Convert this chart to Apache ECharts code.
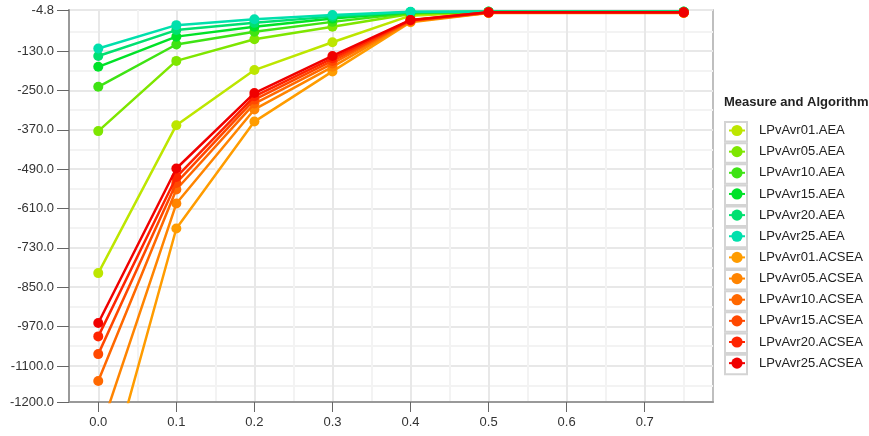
<!DOCTYPE html>
<html><head><meta charset="utf-8">
<script src="https://cdn.jsdelivr.net/npm/echarts@6/dist/echarts.min.js"></script>
<style>html,body{margin:0;padding:0;background:#fff}#c{width:869px;height:436px}</style>
</head><body><div id="c"></div>
<script>
const xValues = [0, 0.1, 0.2, 0.3, 0.4, 0.5, 0.75];

const seriesNames = ['LPvAvr01.AEA','LPvAvr05.AEA','LPvAvr10.AEA','LPvAvr15.AEA','LPvAvr20.AEA','LPvAvr25.AEA',
  'LPvAvr01.ACSEA','LPvAvr05.ACSEA','LPvAvr10.ACSEA','LPvAvr15.ACSEA','LPvAvr20.ACSEA','LPvAvr25.ACSEA'];

const aea01 = [-807, -356, -188, -103, -22, -11, -11];
const aea05 = [-374, -160, -94, -56, -17, -10.5, -10.5];
const aea10 = [-239, -110, -71, -41, -14, -10, -10];
const aea15 = [-178, -86, -56, -31, -12, -10, -10];
const aea20 = [-145, -66, -44, -25, -11, -10, -10];
const aea25 = [-122, -51, -33, -20, -10, -10, -10];
const acsea01 = [-1532, -671, -345, -192, -42, -14, -14];
const acsea05 = [-1307, -595, -308, -178, -40, -13.5, -13.5];
const acsea10 = [-1136, -552, -290, -168, -38, -13, -13];
const acsea15 = [-1054, -532, -278, -160, -37, -12.5, -12.5];
const acsea20 = [-1000, -514, -268, -152, -36, -12, -12];
const acsea25 = [-959, -488, -258, -145, -35, -12, -12];

const seriesValues = [aea01, aea05, aea10, aea15, aea20, aea25, acsea01, acsea05, acsea10, acsea15, acsea20, acsea25];
const seriesColors = ['#bde600','#7ee600','#3ee314','#00e228','#00e070','#00e0ac',
  '#ff9c00','#ff8400','#ff6800','#ff4800','#ff2400','#f00000'];

const yMin = -1200, yMax = -4.8;
const yTickValues = [-4.8, -130, -250, -370, -490, -610, -730, -850, -970, -1090, -1200];
const yMinorValues = [-70, -190, -310, -430, -550, -670, -790, -910, -1030, -1150];
const xMin = -0.0375, xMax = 0.7875;
const xTickValues = [0, 0.1, 0.2, 0.3, 0.4, 0.5, 0.6, 0.7];
const xMinorValues = [0.05, 0.15, 0.25, 0.35, 0.45, 0.55, 0.65, 0.75];

const FONT = 'Liberation Sans, Arial, sans-serif';

const chart = echarts.init(document.getElementById('c'), null, {renderer: 'canvas'});

const series = seriesNames.map((name, i) => ({
  name: name,
  type: 'line',
  xAxisIndex: 0,
  yAxisIndex: 0,
  data: xValues.map((x, j) => [x, seriesValues[i][j]]),
  symbol: 'circle',
  symbolSize: 10,
  color: seriesColors[i],
  lineStyle: {width: 2.5, color: seriesColors[i]},
  itemStyle: {color: seriesColors[i]},
  clip: true,
  animation: false,
  z: 3 + i * 0.01
}));

const legendBoxes = seriesNames.map((n, i) => ({
  type: 'rect',
  left: 724,
  top: 121 + i * 21.15,
  shape: {width: 22, height: 19.5},
  style: {fill: '#fff', stroke: '#d4d4d4', lineWidth: 2},
  z: 0
}));

chart.setOption({
  animation: false,
  backgroundColor: '#fff',
  textStyle: {fontFamily: FONT},
  title: {
    text: 'Measure and Algorithm',
    left: 724, top: 96, padding: 0,
    textStyle: {fontSize: 13, fontWeight: 'bold', color: '#222', fontFamily: FONT}
  },
  grid: {
    left: 69, top: 10, right: 156, bottom: 34,
    show: true, borderColor: '#aaaaaa', borderWidth: 1.5, backgroundColor: 'transparent'
  },
  legend: {
    orient: 'vertical',
    left: 728, top: 123.5,
    padding: 0,
    itemWidth: 16, itemHeight: 14, itemGap: 7.15,
    textStyle: {fontSize: 13, color: '#222', fontFamily: FONT, lineHeight: 14, padding: [0, 0, 0, 9]},
    data: seriesNames,
    z: 5
  },
  graphic: legendBoxes,
  xAxis: [{
    type: 'value', min: xMin, max: xMax,
    axisLine: {show: true, onZero: false, lineStyle: {color: '#999', width: 2}},
    axisTick: {show: true, length: 10, lineStyle: {color: '#666', width: 1}, customValues: xTickValues},
    axisLabel: {fontSize: 13, color: '#333', margin: 14, customValues: xTickValues,
      formatter: v => Number(v).toFixed(1)},
    splitLine: {show: true, lineStyle: {color: '#e8e8e8', width: 2}}
  }, {
    type: 'value', min: xMin, max: xMax, position: 'bottom',
    axisLine: {show: false}, axisLabel: {show: false},
    axisTick: {show: false, customValues: xMinorValues},
    splitLine: {show: true, lineStyle: {color: '#f3f3f3', width: 2}}
  }],
  yAxis: [{
    type: 'value', min: yMin, max: yMax,
    axisLine: {show: true, onZero: false, lineStyle: {color: '#999', width: 2}},
    axisTick: {show: true, length: 12, lineStyle: {color: '#666', width: 1}, customValues: yTickValues},
    axisLabel: {fontSize: 13, color: '#333', margin: 15, customValues: yTickValues,
      formatter: v => Number(Number(v).toPrecision(2)).toFixed(1)},
    splitLine: {show: true, lineStyle: {color: '#e8e8e8', width: 2}}
  }, {
    type: 'value', min: yMin, max: yMax, position: 'left',
    axisLine: {show: false}, axisLabel: {show: false},
    axisTick: {show: false, customValues: yMinorValues},
    splitLine: {show: true, lineStyle: {color: '#f3f3f3', width: 2}}
  }],
  series: series
});
</script>
</body></html>
